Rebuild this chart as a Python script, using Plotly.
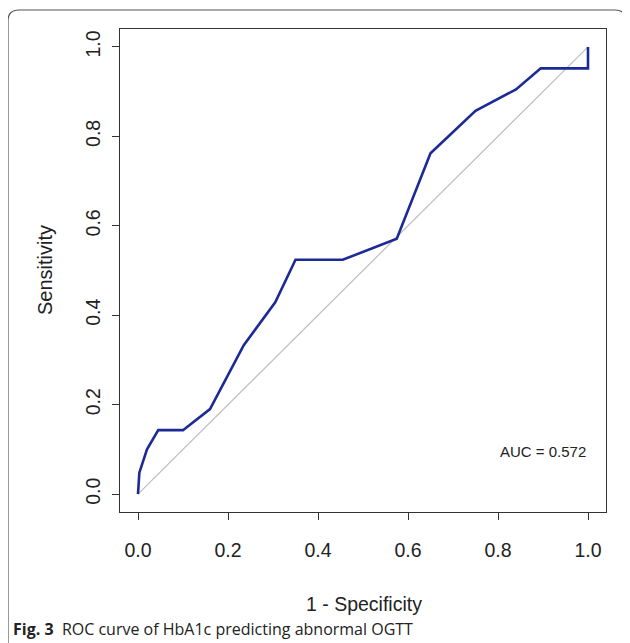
import plotly.graph_objects as go

# ROC curve data (1 - specificity, sensitivity)
fpr = [0.0, 0.0, 0.003, 0.02, 0.045, 0.10, 0.16, 0.235, 0.305, 0.35, 0.455, 0.575, 0.65, 0.75, 0.84, 0.895, 1.0, 1.0]
tpr = [0.0, 0.0, 0.048, 0.10, 0.143, 0.143, 0.19, 0.333, 0.429, 0.524, 0.524, 0.571, 0.762, 0.857, 0.905, 0.952, 0.952, 1.0]
diag_x = [0.0, 1.0]
diag_y = [0.0, 1.0]
tick_vals = [0.0, 0.2, 0.4, 0.6, 0.8, 1.0]
tick_text = ["0.0", "0.2", "0.4", "0.6", "0.8", "1.0"]
auc_label = "AUC = 0.572"
x_title = "1 - Specificity"
y_title = "Sensitivity"
caption_bold = "Fig. 3"
caption_text = "ROC curve of HbA1c predicting abnormal OGTT"

OFF = 8  # page body margin
W, H = 630 - OFF, 643 - OFF
L, R, T, B = 120 - OFF, 606 - OFF, 29 - OFF, 512 - OFF  # plot area in figure pixels


def px(x):
    return (x - OFF - L) / (R - L)


def py(y):
    return (B - (y - OFF)) / (B - T)


fig = go.Figure()
fig.add_trace(go.Scatter(x=diag_x, y=diag_y, mode="lines",
                         line=dict(color="#bdbdbd", width=1.2), hoverinfo="skip", showlegend=False))
fig.add_trace(go.Scatter(x=fpr, y=tpr, mode="lines",
                         line=dict(color="#1b2a96", width=2.6), showlegend=False))

axis_common = dict(
    tickvals=tick_vals, ticktext=tick_text, ticks="outside", ticklen=7, tickwidth=1,
    tickcolor="#333", showline=True, mirror=True, linecolor="#333", linewidth=1,
    showgrid=False, zeroline=False, range=[-0.04, 1.04],
    tickfont=dict(family="Liberation Sans, Arial", size=19.5, color="#222"),
)
fig.update_xaxes(**axis_common, ticklabelstandoff=14)
fig.update_yaxes(**axis_common, tickangle=-90, ticklabelstandoff=4)

fig.add_annotation(x=0.80, y=0.096, xref="x", yref="y", text=auc_label, showarrow=False,
                   xanchor="left", yanchor="middle",
                   font=dict(family="Liberation Sans, Arial", size=15, color="#222"))

fig.add_annotation(x=px(364), y=py(604), xref="paper", yref="paper", text=x_title, showarrow=False,
                   xanchor="center", yanchor="middle",
                   font=dict(family="Liberation Sans, Arial", size=19.5, color="#222"))
fig.add_annotation(x=px(45), y=py(270), xref="paper", yref="paper", text=y_title, showarrow=False,
                   textangle=-90, xanchor="center", yanchor="middle",
                   font=dict(family="Liberation Sans, Arial", size=20, color="#222"))
fig.add_annotation(x=px(11), y=py(629), xref="paper", yref="paper",
                   text=f"<b>{caption_bold}</b>  {caption_text}", showarrow=False,
                   xanchor="left", yanchor="middle",
                   font=dict(family="Open Sans", size=16, color="#222"))

# rounded outer frame
x0, x1, y0, y1, r = 8, 626, 10, 660, 11
path = (f"M {px(x0)},{py(y1)} L {px(x0)},{py(y0 + r)} Q {px(x0)},{py(y0)} {px(x0 + r)},{py(y0)} "
        f"L {px(x1 - r)},{py(y0)} Q {px(x1)},{py(y0)} {px(x1)},{py(y0 + r)} L {px(x1)},{py(y1)}")
fig.add_shape(type="path", path=path, xref="paper", yref="paper",
              line=dict(color="#555", width=1.2), layer="above")

fig.update_layout(
    width=W, height=H, margin=dict(l=L, r=W - R, t=T, b=H - B, pad=0),
    paper_bgcolor="white", plot_bgcolor="white",
)

fig.write_html("out.html")
